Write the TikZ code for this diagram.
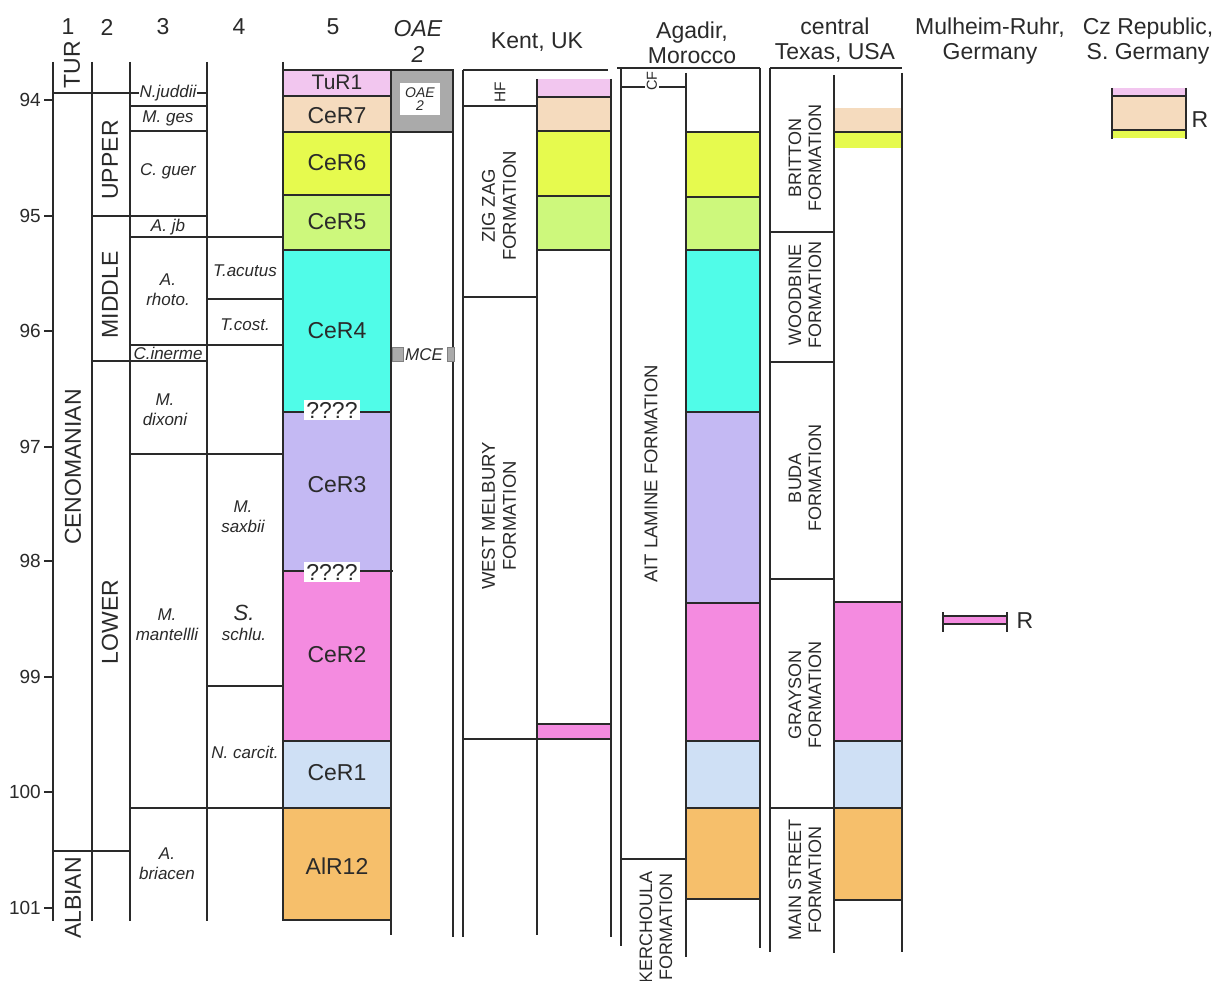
\documentclass[tikz,border=0pt]{standalone}
\usepackage{fontspec}
\setmainfont{Liberation Sans}
\definecolor{ink}{HTML}{2A2A2A}
\definecolor{ctur}{HTML}{F2C6EF}
\definecolor{ccer7}{HTML}{F5DBBE}
\definecolor{ccer6}{HTML}{E6FA4E}
\definecolor{ccer5}{HTML}{CDF87C}
\definecolor{ccer4}{HTML}{50FCE8}
\definecolor{ccer3}{HTML}{C4B9F3}
\definecolor{ccer2}{HTML}{F48BE0}
\definecolor{ccer1}{HTML}{CFE0F5}
\definecolor{calr}{HTML}{F6BF6B}
\definecolor{cgray}{HTML}{AAAAAA}
\newcommand\strat[5]{\filldraw[fill=#1,ln] (#2,#3) rectangle (#4,#5);}
\begin{document}
\begin{tikzpicture}[x=1pt,y=-1pt,
 ln/.style={line width=1.4pt,draw=ink},
 hln/.style={line width=2.6pt,draw=ink},
 txt/.style={inner sep=0pt,text=ink},
 big/.style={txt,font=\fontsize{23}{25}\selectfont,align=center},
 num/.style={txt,font=\fontsize{19}{21}\selectfont},
 zone/.style={txt,font=\fontsize{17}{20}\selectfont\itshape,align=center},
 fm/.style={txt,font=\fontsize{18}{20}\selectfont,align=center,rotate=90},
 fmb/.style={txt,font=\fontsize{18.5}{21}\selectfont,align=center,rotate=90},
 stg/.style={txt,font=\fontsize{23}{25}\selectfont,rotate=90},
 qq/.style={txt,fill=white,inner xsep=2pt,inner ysep=2pt,font=\fontsize{23}{25}\selectfont},
]
\useasboundingbox (0,0) rectangle (1213,981);
\fill[white] (0,0) rectangle (1213,981);

% ---------- age scale ----------
\foreach \a/\y in {94/100,95/216,96/331,97/447,98/561,99/677,100/792,101/908}{
  \draw[ln] (44,\y) -- (53,\y);
  \node[num,anchor=east] (t\a) at (41,\y) {\a};
}

% ---------- column headers ----------
\node[big] (h1) at (68,27) {1};
\node[big] (h2) at (107,27) {2};
\node[big] (h3) at (163,27) {3};
\node[big] (h4) at (239,27) {4};
\node[big] (h5) at (333,27) {5};
\node[big,font=\fontsize{23}{26}\selectfont\itshape] (hoae) at (418,41) {OAE\\2};
\node[big] (hkent) at (537,42) {Kent, UK};
\node[big] (hagadir) at (692,43) {Agadir,\\Morocco};
\node[big] (htexas) at (835,40) {central\\Texas, USA};
\node[big] (hmul) at (990,41) {Mulheim-Ruhr,\\Germany};
\node[big] (hcz) at (1148,41) {Cz Republic,\\S. Germany};

% ---------- columns 1-4 ----------
\foreach \x in {53,92,130,207,283} \draw[ln] (\x,62) -- (\x,921);
\draw[ln] (53,93) -- (207,93);
\draw[ln] (130,106) -- (207,106);
\draw[ln] (130,131) -- (207,131);
\draw[ln] (92,216) -- (207,216);
\draw[ln] (130,237) -- (283,237);
\draw[ln] (207,299) -- (283,299);
\draw[ln] (130,345) -- (283,345);
\draw[ln] (92,361) -- (207,361);
\draw[ln] (130,454) -- (283,454);
\draw[ln] (207,686) -- (283,686);
\draw[ln] (130,808) -- (283,808);
\draw[ln] (53,851) -- (130,851);

\node[stg] (tur) at (72,65) {TUR};
\node[stg] (ceno) at (73,467) {CENOMANIAN};
\node[stg] (alb) at (73,898) {ALBIAN};
\node[stg] (upper) at (110,160) {UPPER};
\node[stg] (middle) at (110,295) {MIDDLE};
\node[stg] (lower) at (110,622) {LOWER};

\node[zone,fill=white,inner xsep=1pt] (zjud) at (168,93) {N.juddii};
\node[zone] (zges) at (168,118) {M. ges};
\node[zone] (zgue) at (168,171) {C. guer};
\node[zone] (zjb) at (168,227) {A. jb};
\node[zone] (zrho) at (168,290) {A.\\rhoto.};
\node[zone] (zine) at (168,353) {C.inerme};
\node[zone] (zdix) at (165,410) {M.\\dixoni};
\node[zone] (zman) at (167,625) {M.\\mantellli};
\node[zone] (zbri) at (167,864) {A.\\briacen};
\node[zone] (zacu) at (245,271) {T.acutus};
\node[zone] (zcos) at (245,325) {T.cost.};
\node[zone] (zsax) at (243,517) {M.\\saxbii};
\node[zone] (zsch) at (244,623) {{\fontsize{22}{20}\selectfont S.}\\schlu.};
\node[zone] (zcar) at (245,752) {N. carcit.};

% ---------- column 5 ----------
\strat{ctur}{283}{70}{391}{96}
\strat{ccer7}{283}{96}{391}{132}
\strat{ccer6}{283}{132}{391}{195}
\strat{ccer5}{283}{195}{391}{250}
\strat{ccer4}{283}{250}{391}{412}
\strat{ccer3}{283}{412}{391}{571}
\strat{ccer2}{283}{571}{391}{741}
\strat{ccer1}{283}{741}{391}{808}
\strat{calr}{283}{808}{391}{920}
\draw[ln] (391,70) -- (391,935);
\draw[ln] (283,571) -- (393,571);
\node[big,font=\fontsize{21}{23}\selectfont] (r1) at (337,82) {TuR1};
\node[big] (r7) at (337,116) {CeR7};
\node[big] (r6) at (337,163) {CeR6};
\node[big] (r5) at (337,222) {CeR5};
\node[big] (r4) at (337,331) {CeR4};
\node[big] (r3) at (337,485) {CeR3};
\node[big] (r2) at (337,655) {CeR2};
\node[big] (rc1) at (337,773) {CeR1};
\node[big] (ra) at (337,866) {AlR12};
\node[qq] (q1) at (332,410) {????};
\node[qq] (q2) at (332,572) {????};

% ---------- OAE 2 column ----------
\filldraw[fill=cgray,ln] (391,70) rectangle (453,132);
\draw[ln] (453,70) -- (453,937);
\node[txt,fill=white,minimum width=40pt,minimum height=32pt,align=center,
      font=\fontsize{14}{13}\selectfont\itshape] (oaein) at (420,99) {OAE\\2};
\filldraw[fill=cgray,draw=gray,line width=0.6pt] (392,347) rectangle (403,361);
\filldraw[fill=cgray,draw=gray,line width=0.6pt] (447,347) rectangle (454,361);
\node[zone] (mce) at (424,355) {MCE};

% ---------- Kent, UK ----------
\draw[hln] (463,70) -- (608,70);
\fill[ctur] (537,79) rectangle (611,97);
\strat{ccer7}{537}{97}{611}{131}
\strat{ccer6}{537}{131}{611}{196}
\strat{ccer5}{537}{196}{611}{250}
\strat{ccer2}{537}{724}{611}{739}
\draw[ln] (463,70) -- (463,937);
\draw[ln] (537,79) -- (537,935);
\draw[ln] (611,79) -- (611,937);
\draw[ln] (463,106) -- (537,106);
\draw[ln] (463,297) -- (537,297);
\draw[ln] (463,739) -- (611,739);
\node[fm,font=\fontsize{15.5}{17}\selectfont] (khf) at (500,92) {HF};
\node[fmb] (kzz) at (499,206) {ZIG ZAG\\FORMATION};
\node[fmb] (kwm) at (499,516) {WEST MELBURY\\FORMATION};

% ---------- Agadir, Morocco ----------
\draw[hln] (617,68) -- (760,68);
\strat{ccer6}{686}{132}{760}{197}
\strat{ccer5}{686}{197}{760}{250}
\strat{ccer4}{686}{250}{760}{412}
\strat{ccer3}{686}{412}{760}{603}
\strat{ccer2}{686}{603}{760}{741}
\strat{ccer1}{686}{741}{760}{808}
\strat{calr}{686}{808}{760}{899}
\draw[ln] (621,68) -- (621,946);
\draw[ln] (686,73) -- (686,957);
\draw[ln] (760,68) -- (760,948);
\draw[ln] (621,87) -- (686,87);
\draw[ln] (621,859) -- (686,859);
\node[fm,fill=white,inner xsep=1pt,inner ysep=2pt,font=\fontsize{14.5}{16}\selectfont] (acf) at (652,81) {CF};
\node[fmb] (aait) at (651,474) {AIT LAMINE FORMATION};
\node[fm] (aker) at (656,927) {KERCHOULA\\FORMATION};

% ---------- central Texas ----------
\draw[hln] (770,68) -- (902,68);
\fill[ccer7] (834,108) rectangle (902,132);
\fill[ccer6] (834,132) rectangle (902,148);
\draw[ln] (834,132) -- (902,132);
\strat{ccer2}{834}{602}{902}{741}
\strat{ccer1}{834}{741}{902}{808}
\strat{calr}{834}{808}{902}{900}
\draw[ln] (770,68) -- (770,952);
\draw[ln] (834,75) -- (834,953);
\draw[ln] (902,73) -- (902,952);
\draw[ln] (770,232) -- (834,232);
\draw[ln] (770,362) -- (834,362);
\draw[ln] (770,579) -- (834,579);
\draw[ln] (770,808) -- (834,808);
\node[fm] (tbr) at (805,158) {BRITTON\\FORMATION};
\node[fm] (two) at (805,295) {WOODBINE\\FORMATION};
\node[fm] (tbu) at (805,478) {BUDA\\FORMATION};
\node[fm] (tgr) at (805,695) {GRAYSON\\FORMATION};
\node[fm] (tms) at (805,880) {MAIN STREET\\FORMATION};

% ---------- Mulheim-Ruhr ----------
\fill[ccer2] (943,616) rectangle (1007,624);
\draw[ln] (943,616) -- (1007,616);
\draw[ln] (943,624) -- (1007,624);
\draw[ln] (943,612) -- (943,632);
\draw[ln] (1007,612) -- (1007,632);
\node[big] (mr) at (1025,621) {R};

% ---------- Cz Republic ----------
\fill[ctur] (1112,88) rectangle (1186,96);
\fill[ccer7] (1112,96) rectangle (1186,130);
\fill[ccer6] (1112,130) rectangle (1186,138);
\draw[ln] (1112,96) -- (1186,96);
\draw[ln] (1112,130) -- (1186,130);
\draw[ln] (1112,88) -- (1112,139);
\draw[ln] (1186,88) -- (1186,139);
\node[big] (cr) at (1200,120) {R};
\end{tikzpicture}
\end{document}
